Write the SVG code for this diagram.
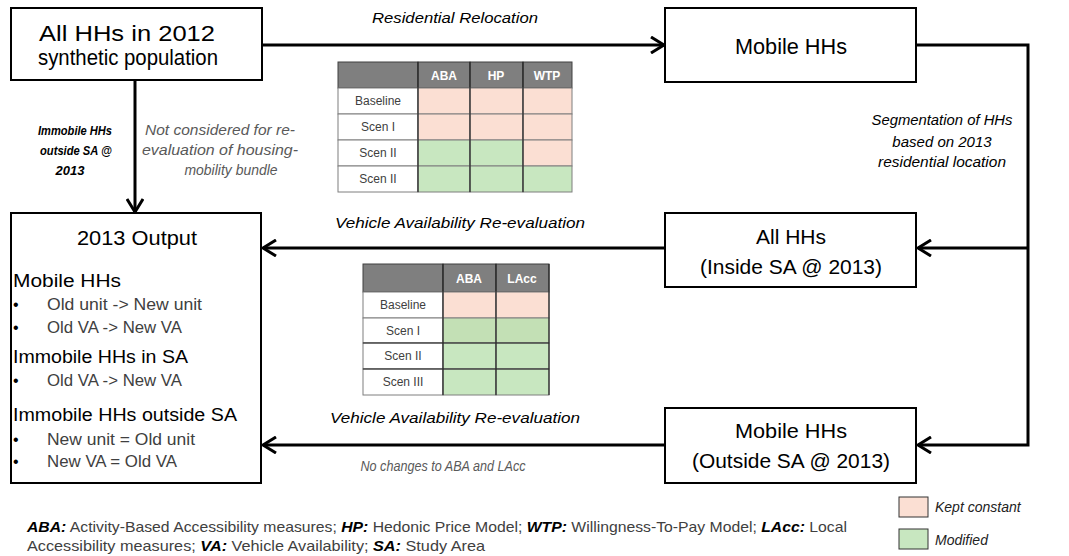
<svg xmlns="http://www.w3.org/2000/svg" width="1069" height="556" viewBox="0 0 1069 556">
<style>
  text { font-family: "Liberation Sans", Arial, sans-serif; }
  .box { fill: #ffffff; stroke: #000000; stroke-width: 2; }
  .big { font-size: 22px; fill: #000; text-anchor: middle; }
  .mid { font-size: 20px; fill: #000; text-anchor: middle; }
  .hdr { font-size: 18px; fill: #000; }
  .bul { font-size: 16px; fill: #404040; }
  .dot { font-size: 16px; fill: #000; }
  .lbl { font-size: 15px; font-style: italic; fill: #000; text-anchor: middle; }
  .lblb { font-size: 13px; font-style: italic; font-weight: bold; fill: #000; text-anchor: middle; }
  .grey { font-size: 14px; font-style: italic; fill: #595959; text-anchor: middle; }
  .conn { fill: none; stroke: #000; stroke-width: 3; }
  .th { fill: #7f7f7f; stroke: #404040; stroke-width: 1; }
  .tw { fill: #ffffff; stroke: #7f7f7f; stroke-width: 1; }
  .tk { fill: #fbdfd3; stroke: #7f7f7f; stroke-width: 1; }
  .tm { fill: #c8e7c0; stroke: #7f7f7f; stroke-width: 1; }
  .tm2 { fill: #c3e0b5; stroke: #7f7f7f; stroke-width: 1; }
  .vl { stroke: #262626; stroke-width: 1.2; }
  .thx { font-size: 12px; font-weight: bold; fill: #fff; text-anchor: middle; }
  .tdx { font-size: 12px; fill: #404040; text-anchor: middle; }
  .fn { font-size: 15px; fill: #404040; }
  .fnb { font-weight: bold; font-style: italic; fill: #000; }
  .leg { font-size: 14px; font-style: italic; fill: #222; }
</style>
<defs>
  <marker id="arr" markerUnits="userSpaceOnUse" viewBox="0 0 16 18" refX="14" refY="9" markerWidth="16" markerHeight="18" orient="auto">
    <path d="M1,1 L14,9 L1,17" fill="none" stroke="#000" stroke-width="3"/>
  </marker>
</defs>
<rect width="1069" height="556" fill="#ffffff"/>

<g id="connectors">
  <path class="conn" d="M262,45 H664" marker-end="url(#arr)"/>
  <path class="conn" d="M135,80 V212" marker-end="url(#arr)"/>
  <path class="conn" d="M916,45 H1028 V445 H918" marker-end="url(#arr)"/>
  <path class="conn" d="M1028,248 H918" marker-end="url(#arr)"/>
  <path class="conn" d="M665,248 H263" marker-end="url(#arr)"/>
  <path class="conn" d="M665,445 H263" marker-end="url(#arr)"/>
  <text class="lbl" x="455" y="23" textLength="166" lengthAdjust="spacingAndGlyphs">Residential Relocation</text>
  <text class="lblb" x="75" y="135" textLength="74" lengthAdjust="spacingAndGlyphs">Immobile HHs</text>
  <text class="lblb" x="76" y="155" textLength="72" lengthAdjust="spacingAndGlyphs">outside SA @</text>
  <text class="lblb" x="70" y="175">2013</text>
  <text class="grey" x="220" y="135" textLength="150" lengthAdjust="spacingAndGlyphs">Not considered for re-</text>
  <text class="grey" x="220" y="155" textLength="156" lengthAdjust="spacingAndGlyphs">evaluation of housing-</text>
  <text class="grey" x="231" y="175" textLength="93" lengthAdjust="spacingAndGlyphs">mobility bundle</text>
  <text class="lbl" x="942" y="125" font-size="14" textLength="141" lengthAdjust="spacingAndGlyphs">Segmentation of HHs</text>
  <text class="lbl" x="942" y="147" font-size="14">based on 2013</text>
  <text class="lbl" x="942" y="167" font-size="14" textLength="128" lengthAdjust="spacingAndGlyphs">residential location</text>
  <text class="lbl" x="460" y="228" font-size="16" textLength="250" lengthAdjust="spacingAndGlyphs">Vehicle Availability Re-evaluation</text>
  <text class="lbl" x="455" y="423" font-size="16" textLength="250" lengthAdjust="spacingAndGlyphs">Vehicle Availability Re-evaluation</text>
  <text class="grey" x="443" y="471" textLength="165" lengthAdjust="spacingAndGlyphs">No changes to ABA and LAcc</text>
</g>

<g id="node-all2012">
  <rect class="box" x="11" y="8" width="251" height="72"/>
  <text class="big" x="127" y="41" textLength="176" lengthAdjust="spacingAndGlyphs">All HHs in 2012</text>
  <text class="big" x="128" y="65" textLength="180" lengthAdjust="spacingAndGlyphs">synthetic population</text>
</g>

<g id="node-mobile">
  <rect class="box" x="665" y="8" width="251" height="74"/>
  <text class="big" x="791" y="54" textLength="112" lengthAdjust="spacingAndGlyphs">Mobile HHs</text>
</g>

<g id="node-inside">
  <rect class="box" x="665" y="213" width="251" height="74"/>
  <text class="mid" x="791" y="244" textLength="70" lengthAdjust="spacingAndGlyphs">All HHs</text>
  <text class="mid" x="791" y="274" textLength="182" lengthAdjust="spacingAndGlyphs">(Inside SA @ 2013)</text>
</g>

<g id="node-outside">
  <rect class="box" x="665" y="408" width="251" height="75"/>
  <text class="mid" x="791" y="438" textLength="112" lengthAdjust="spacingAndGlyphs">Mobile HHs</text>
  <text class="mid" x="791" y="468" textLength="198" lengthAdjust="spacingAndGlyphs">(Outside SA @ 2013)</text>
</g>

<g id="node-output">
  <rect class="box" x="11" y="213" width="250" height="270"/>
  <text class="mid" x="137" y="245" font-size="20" textLength="120" lengthAdjust="spacingAndGlyphs">2013 Output</text>
  <text class="hdr" x="13" y="287" textLength="108" lengthAdjust="spacingAndGlyphs">Mobile HHs</text>
  <text class="dot" x="13" y="310">•</text>
  <text class="bul" x="47" y="310" textLength="155" lengthAdjust="spacingAndGlyphs">Old unit -&gt; New unit</text>
  <text class="dot" x="13" y="333">•</text>
  <text class="bul" x="47" y="333" textLength="135" lengthAdjust="spacingAndGlyphs">Old VA -&gt; New VA</text>
  <text class="hdr" x="13" y="363" textLength="175" lengthAdjust="spacingAndGlyphs">Immobile HHs in SA</text>
  <text class="dot" x="13" y="386">•</text>
  <text class="bul" x="47" y="386" textLength="135" lengthAdjust="spacingAndGlyphs">Old VA -&gt; New VA</text>
  <text class="hdr" x="13" y="421" textLength="224" lengthAdjust="spacingAndGlyphs">Immobile HHs outside SA</text>
  <text class="dot" x="13" y="445">•</text>
  <text class="bul" x="47" y="445" textLength="148" lengthAdjust="spacingAndGlyphs">New unit = Old unit</text>
  <text class="dot" x="13" y="467">•</text>
  <text class="bul" x="47" y="467" textLength="130" lengthAdjust="spacingAndGlyphs">New VA = Old VA</text>
</g>

<g id="table-relocation">
  <rect class="th" x="338" y="62" width="80" height="26"/>
  <rect class="th" x="418" y="62" width="52" height="26"/>
  <rect class="th" x="470" y="62" width="53" height="26"/>
  <rect class="th" x="523" y="62" width="49" height="26"/>
  <text class="thx" x="444" y="80">ABA</text>
  <text class="thx" x="496" y="80">HP</text>
  <text class="thx" x="547" y="80">WTP</text>

  <rect class="tw" x="338" y="88" width="80" height="26"/>
  <rect class="tk" x="418" y="88" width="52" height="26"/>
  <rect class="tk" x="470" y="88" width="53" height="26"/>
  <rect class="tk" x="523" y="88" width="49" height="26"/>
  <text class="tdx" x="378" y="105">Baseline</text>

  <rect class="tw" x="338" y="114" width="80" height="26"/>
  <rect class="tk" x="418" y="114" width="52" height="26"/>
  <rect class="tk" x="470" y="114" width="53" height="26"/>
  <rect class="tk" x="523" y="114" width="49" height="26"/>
  <text class="tdx" x="378" y="131">Scen I</text>

  <rect class="tw" x="338" y="140" width="80" height="26"/>
  <rect class="tm" x="418" y="140" width="52" height="26"/>
  <rect class="tm" x="470" y="140" width="53" height="26"/>
  <rect class="tk" x="523" y="140" width="49" height="26"/>
  <text class="tdx" x="378" y="157">Scen II</text>

  <rect class="tw" x="338" y="166" width="80" height="26"/>
  <rect class="tm" x="418" y="166" width="52" height="26"/>
  <rect class="tm" x="470" y="166" width="53" height="26"/>
  <rect class="tm" x="523" y="166" width="49" height="26"/>
  <text class="tdx" x="378" y="183">Scen II</text>

  <line class="vl" x1="418" y1="62" x2="418" y2="192"/>
  <line class="vl" x1="470" y1="62" x2="470" y2="192"/>
  <line class="vl" x1="523" y1="62" x2="523" y2="192"/>
</g>

<g id="table-va">
  <rect class="th" x="363" y="264" width="80" height="28"/>
  <rect class="th" x="443" y="264" width="53" height="28"/>
  <rect class="th" x="496" y="264" width="53" height="28"/>
  <text class="thx" x="469" y="283">ABA</text>
  <text class="thx" x="522" y="283">LAcc</text>

  <rect class="tw" x="363" y="292" width="80" height="26"/>
  <rect class="tk" x="443" y="292" width="53" height="26"/>
  <rect class="tk" x="496" y="292" width="53" height="26"/>
  <text class="tdx" x="403" y="309">Baseline</text>

  <rect class="tw" x="363" y="318" width="80" height="25"/>
  <rect class="tm2" x="443" y="318" width="53" height="25"/>
  <rect class="tm2" x="496" y="318" width="53" height="25"/>
  <text class="tdx" x="403" y="335">Scen I</text>

  <rect class="tw" x="363" y="343" width="80" height="26"/>
  <rect class="tm" x="443" y="343" width="53" height="26"/>
  <rect class="tm" x="496" y="343" width="53" height="26"/>
  <text class="tdx" x="403" y="360">Scen II</text>

  <rect class="tw" x="363" y="369" width="80" height="26"/>
  <rect class="tm" x="443" y="369" width="53" height="26"/>
  <rect class="tm" x="496" y="369" width="53" height="26"/>
  <text class="tdx" x="403" y="386">Scen III</text>

  <line class="vl" x1="363" y1="343" x2="549" y2="343"/>
  <line class="vl" x1="363" y1="369" x2="549" y2="369"/>
  <line class="vl" x1="443" y1="264" x2="443" y2="395"/>
  <line class="vl" x1="496" y1="264" x2="496" y2="395"/>
  <line class="vl" x1="549" y1="264" x2="549" y2="395"/>
</g>

<g id="legend">
  <rect x="899" y="497" width="29" height="20" fill="#fbdfd3" stroke="#333" stroke-width="1"/>
  <text class="leg" x="935" y="512">Kept constant</text>
  <rect x="899" y="529" width="29" height="20" fill="#c8e7c0" stroke="#333" stroke-width="1"/>
  <text class="leg" x="935" y="545">Modified</text>
</g>

<g id="footnote">
  <text class="fn" x="27" y="532" textLength="820" lengthAdjust="spacingAndGlyphs"><tspan class="fnb">ABA:</tspan> Activity-Based Accessibility measures; <tspan class="fnb">HP:</tspan> Hedonic Price Model; <tspan class="fnb">WTP:</tspan> Willingness-To-Pay Model; <tspan class="fnb">LAcc:</tspan> Local</text>
  <text class="fn" x="27" y="551" textLength="458" lengthAdjust="spacingAndGlyphs">Accessibility measures; <tspan class="fnb">VA:</tspan> Vehicle Availability; <tspan class="fnb">SA:</tspan> Study Area</text>
</g>
</svg>
